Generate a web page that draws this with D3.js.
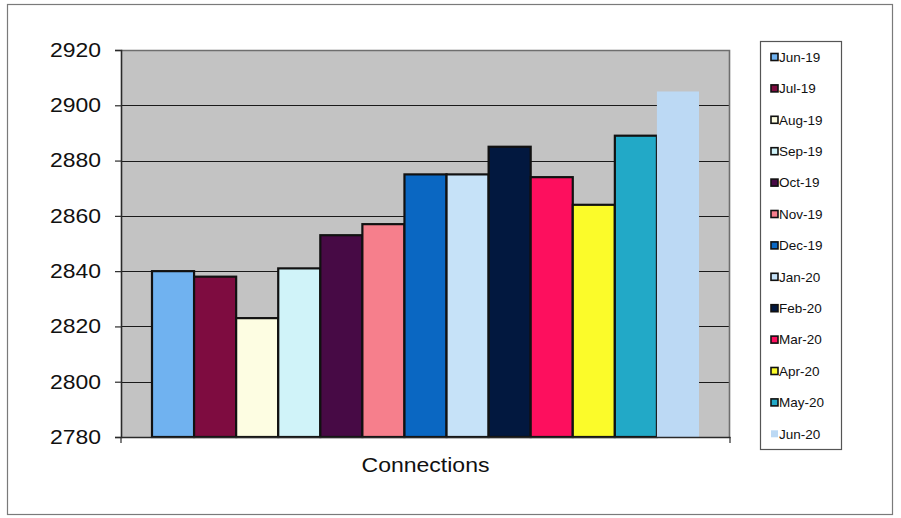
<!DOCTYPE html>
<html>
<head>
<meta charset="utf-8">
<script src="https://cdn.jsdelivr.net/npm/d3@7"></script>
<style>
  html, body { margin: 0; padding: 0; background: #ffffff; }
  svg { display: block; font-family: Arial, "Liberation Sans", sans-serif; }
</style>
</head>
<body>
<svg id="chart" width="901" height="518"></svg>
<script>
// Monthly connection counts, one series per month
const months = ["Jun-19","Jul-19","Aug-19","Sep-19","Oct-19","Nov-19","Dec-19",
                "Jan-20","Feb-20","Mar-20","Apr-20","May-20","Jun-20"];
const connections = [2840, 2838, 2823, 2841, 2853, 2857, 2875, 2875, 2885, 2874, 2864, 2889, 2905];
const colors = ["#70b2f0","#7e0c40","#fdfde2","#d0f3f9","#470a45","#f67f8c","#0a67c2",
                "#c6e2f8","#02183f","#fd0f5e","#fbfb2a","#22a9c7","#bcd9f4"];
const outlined = [true,true,true,true,true,true,true,true,true,true,true,true,false];
const category = ["Connections"];
const yTicks = [2780, 2800, 2820, 2840, 2860, 2880, 2900, 2920];

const svg = d3.select("#chart");

// chart frame
svg.append("rect")
  .attr("x", 7.5).attr("y", 4.5).attr("width", 885).attr("height", 510)
  .attr("fill", "#ffffff").attr("stroke", "#7a7a7a").attr("stroke-width", 1.2);

const plot = { left: 121, top: 50, right: 730, bottom: 437 };

const y = d3.scaleLinear().domain([2780, 2920]).range([plot.bottom, plot.top]);
const xCat = d3.scaleBand().domain(category).range([plot.left, plot.right]).paddingInner(0).paddingOuter(0);
// 13 touching bars inside the category band with a gap each side
const x = d3.scaleBand().domain(months)
  .range([xCat(category[0]) + 31, xCat(category[0]) + xCat.bandwidth() - 31])
  .padding(0);

// plot background
svg.append("rect")
  .attr("x", plot.left).attr("y", plot.top)
  .attr("width", plot.right - plot.left).attr("height", plot.bottom - plot.top)
  .attr("fill", "#c3c3c3");

// gridlines
svg.append("g").selectAll("line")
  .data(yTicks.filter(t => t > 2780 && t < 2920))
  .join("line")
  .attr("x1", plot.left).attr("x2", plot.right)
  .attr("y1", d => Math.round(y(d)) + 0.5).attr("y2", d => Math.round(y(d)) + 0.5)
  .attr("stroke", "#1a1a1a").attr("stroke-width", 1.2);

// plot border (top/right)
svg.append("path")
  .attr("d", `M${plot.left},${plot.top + 0.5}H${plot.right - 0.5}V${plot.bottom}`)
  .attr("fill", "none").attr("stroke", "#6e6e6e").attr("stroke-width", 1.6);

// bars
svg.append("g").selectAll("rect")
  .data(months.map((m, i) => ({ m, v: connections[i], c: colors[i], o: outlined[i] })))
  .join("rect")
  .attr("x", d => x(d.m))
  .attr("y", d => y(d.v))
  .attr("width", x.bandwidth())
  .attr("height", d => plot.bottom - y(d.v))
  .attr("fill", d => d.c)
  .attr("stroke", d => d.o ? "#111111" : "none")
  .attr("stroke-width", 2.2);

// value axis
const yAxis = d3.axisLeft(y).tickValues(yTicks).tickSize(6).tickPadding(14).tickFormat(d3.format("d"));
const gy = svg.append("g").attr("transform", `translate(${plot.left},0)`).call(yAxis);
gy.select(".domain").attr("stroke", "#2a2a2a").attr("stroke-width", 1.6);
gy.selectAll(".tick line").attr("stroke", "#2a2a2a").attr("stroke-width", 1.2);
gy.selectAll(".tick text")
  .attr("font-size", 20).attr("fill", "#111111")
  .attr("textLength", 51).attr("lengthAdjust", "spacingAndGlyphs")
  .attr("font-family", "Arial, 'Liberation Sans', sans-serif");

// category axis
const xAxis = d3.axisBottom(xCat).tickSize(0).tickPadding(20);
const gx = svg.append("g").attr("transform", `translate(0,${plot.bottom})`).call(xAxis);
gx.select(".domain").attr("stroke", "#2a2a2a").attr("stroke-width", 1.6);
gx.selectAll(".tick text")
  .attr("font-size", 21).attr("fill", "#111111")
  .attr("textLength", 128).attr("lengthAdjust", "spacingAndGlyphs")
  .attr("font-family", "Arial, 'Liberation Sans', sans-serif");
// category boundary ticks
gx.selectAll(".edge").data([plot.left, plot.right]).join("line")
  .attr("class", "edge")
  .attr("x1", d => d).attr("x2", d => d).attr("y1", 0).attr("y2", 6)
  .attr("stroke", "#2a2a2a").attr("stroke-width", 1.2);

// legend
const legend = svg.append("g");
legend.append("rect")
  .attr("x", 760.5).attr("y", 41.5).attr("width", 81).attr("height", 408)
  .attr("fill", "#ffffff").attr("stroke", "#555555").attr("stroke-width", 1.2);
const step = 31.4;
const items = legend.selectAll("g.item")
  .data(months.map((m, i) => ({ m, c: colors[i], o: outlined[i] })))
  .join("g").attr("class", "item")
  .attr("transform", (d, i) => `translate(771,${57 + i * step})`);
items.append("rect")
  .attr("x", 0).attr("y", -3.5).attr("width", 7).attr("height", 7)
  .attr("fill", d => d.c)
  .attr("stroke", d => d.o ? "#111111" : "none").attr("stroke-width", 1.6);
items.append("text")
  .attr("x", 8).attr("y", 0).attr("dy", "0.35em")
  .attr("font-size", 13.5).attr("fill", "#111111")
  .text(d => d.m);
</script>
</body>
</html>
